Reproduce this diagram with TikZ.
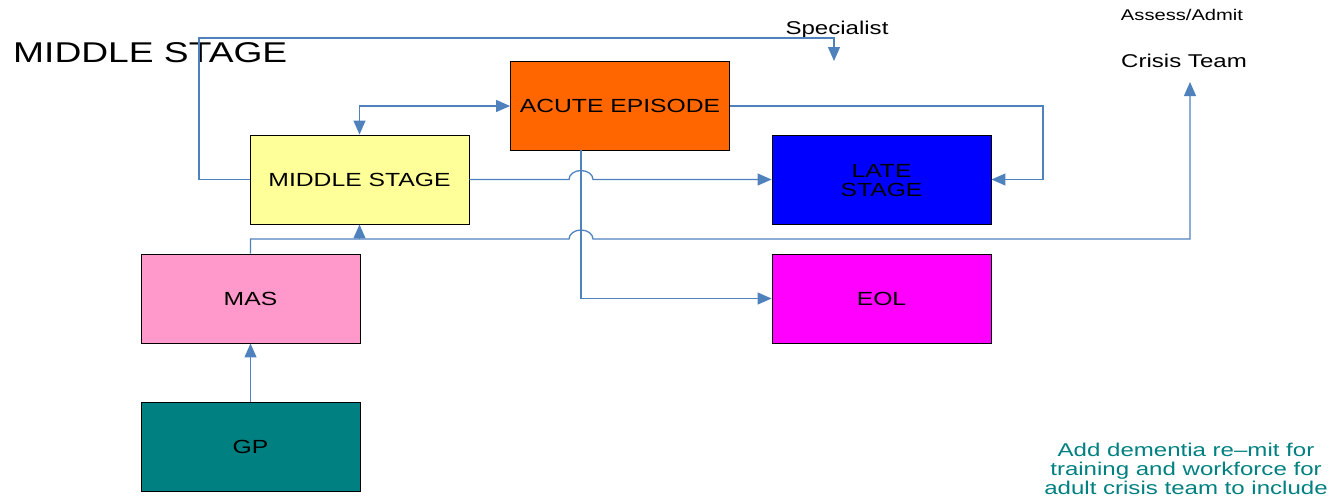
\documentclass[tikz,border=0pt]{standalone}
\usepackage{fontspec}
\setmainfont{Liberation Sans}
\usepackage{graphicx}
\usetikzlibrary{arrows.meta}
\definecolor{linkblue}{HTML}{4F81BD}
\definecolor{boxyellow}{HTML}{FFFF99}
\definecolor{boxorange}{HTML}{FF6600}
\definecolor{boxblue}{HTML}{0000FF}
\definecolor{boxpink}{HTML}{FF99CC}
\definecolor{boxmagenta}{HTML}{FF00FF}
\definecolor{boxteal}{HTML}{008080}
% horizontally widened lettering
\newcommand{\wide}[1]{\scalebox{1.3}[1]{#1}}
\tikzset{
  stagebox/.style={draw=black, line width=0.9pt, minimum width=219pt, minimum height=89pt,
    inner sep=0pt, font=\fontsize{19}{19}\selectfont},
  conn/.style={draw=linkblue, line width=1.3pt,
    arrows={-Triangle[length=14pt,width=12pt]}},
  label/.style={inner sep=0pt, font=\fontsize{18.5}{19}\selectfont},
}
\begin{document}
\begin{tikzpicture}[x=1pt,y=-1pt]
\useasboundingbox (0,0) rectangle (1332,496);

% stage boxes
\node[stagebox, fill=boxyellow]  (mid)   at (359.5,179.5) {\wide{MIDDLE STAGE}};
\node[stagebox, fill=boxorange]  (acute) at (620,106)     {\wide{ACUTE EPISODE}};
\node[stagebox, fill=boxblue]    (late)  at (881.5,179.5)
  {\raisebox{-4pt}[\height][\depth]{\wide{\begin{tabular}{@{}c@{}}LATE\\STAGE\end{tabular}}}};
\node[stagebox, fill=boxpink]    (mas)   at (250.5,298.5) {\wide{MAS}};
\node[stagebox, fill=boxmagenta] (eol)   at (881.5,298.5) {\wide{EOL}};
\node[stagebox, fill=boxteal]    (gp)    at (250.5,446.5) {\wide{GP}};

% free labels
\node[label, anchor=base west, font=\fontsize{28.6}{30}\selectfont] (title) at (13,62) {\wide{MIDDLE STAGE}};
\node[label, anchor=base] (spec)   at (837,34)  {\wide{Specialist}};
\node[label, anchor=base, font=\fontsize{15.5}{17}\selectfont] (assess) at (1182,20) {\wide{Assess/Admit}};
\node[label, anchor=base, font=\fontsize{18.5}{19}\selectfont] (crisis) at (1184,67) {\wide{Crisis Team}};
\node[label, anchor=base, text=boxteal] (note) at (1186,456)
  {\wide{\begin{tabular}[t]{@{}c@{}}Add dementia re–mit for\\training and workforce for\\adult crisis team to include\end{tabular}}};

% connector end points
\coordinate (spectip)   at (834,61);
\coordinate (crisistip) at (1190,82);
\coordinate (adrop)     at (581,150);
\coordinate (masrun)    at (359.5,239);

% middle stage up and over to specialist
\draw[conn] (mid.west) -- (199,179.5) -- (199,38) -| (spectip);
% middle stage <-> acute episode
\draw[conn, arrows={Triangle[length=14pt,width=12pt]-Triangle[length=14pt,width=12pt]}]
  (mid.north) |- (acute.west);
% acute episode round to late stage
\draw[conn] (acute.east) -- (1043,106) |- (late.east);
% middle stage to late stage, hopping the drop line
\draw[conn] (mid.east) -- (569,179.5) arc[start angle=180, end angle=360, x radius=12, y radius=9] -- (late.west);
% acute episode down to EOL
\draw[conn] (adrop) |- (eol.west);
% MAS across to crisis team, hopping the drop line
\draw[conn] (mas.north) |- (569,239) arc[start angle=180, end angle=360, x radius=12, y radius=9]
  -- (1190,239) -- (crisistip);
% MAS branch up into middle stage
\draw[conn] (masrun) -- (mid.south);
% GP to MAS
\draw[conn] (gp.north) -- (mas.south);
\end{tikzpicture}
\end{document}
